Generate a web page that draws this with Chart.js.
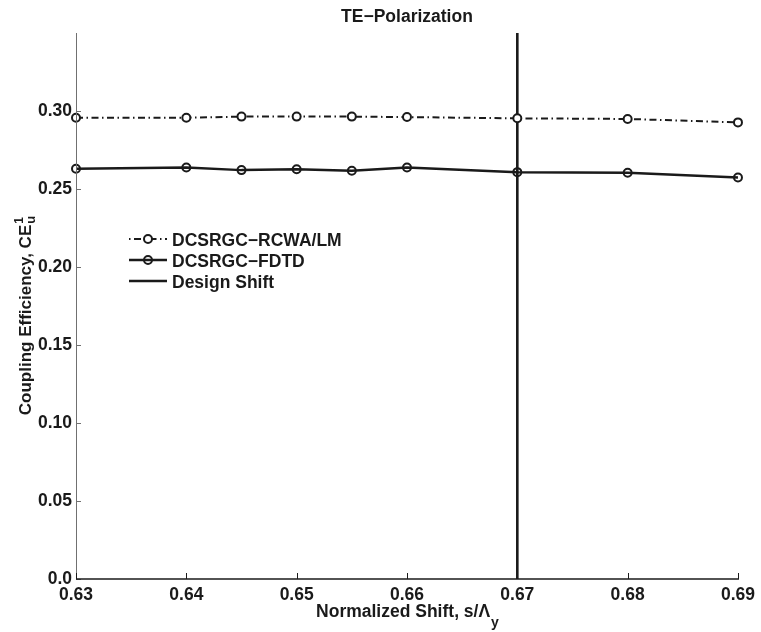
<!DOCTYPE html>
<html>
<head>
<meta charset="utf-8">
<script src="https://cdn.jsdelivr.net/npm/chart.js@4.4.0/dist/chart.umd.min.js"></script>
<style>
  body { margin: 0; background: #fff; }
  #wrap { width: 761px; height: 632px; }
</style>
</head>
<body>
<div id="wrap"><canvas id="chart" width="761" height="632"></canvas></div>
<script>
// x positions (normalized shift)
const shifts = [0.63, 0.64, 0.645, 0.65, 0.655, 0.66, 0.67, 0.68, 0.69];
// coupling efficiency
const rcwaValues = [0.2957, 0.2957, 0.2964, 0.2964, 0.2964, 0.2961, 0.2953, 0.2949, 0.2927];
const fdtdValues = [0.2630, 0.2638, 0.2621, 0.2627, 0.2617, 0.2638, 0.2608, 0.2604, 0.2574];
const designShift = 0.67;

const seriesNames = ["DCSRGC\u2212RCWA/LM", "DCSRGC\u2212FDTD", "Design Shift"];

const xTicks = [0.63, 0.64, 0.65, 0.66, 0.67, 0.68, 0.69];
const xTickLabels = ["0.63", "0.64", "0.65", "0.66", "0.67", "0.68", "0.69"];
const yTicks = [0, 0.05, 0.10, 0.15, 0.20, 0.25, 0.30];
const yTickLabels = ["0.0", "0.05", "0.10", "0.15", "0.20", "0.25", "0.30"];
const xMin = 0.63, xMax = 0.69, yMin = 0, yMax = 0.35;

const FONT = "'Liberation Sans', Arial, Helvetica, sans-serif";
const INK = "#1a1a1a";
const FS = 17.5;

const toPoints = (xs, ys) => xs.map((x, i) => ({ x: x, y: ys[i] }));

// axis lines, inward ticks, titles and legend
const decorations = {
    id: "decorations",
    afterDraw(chart) {
        const ctx = chart.ctx;
        const { left, right, top, bottom } = chart.chartArea;
        const xs = chart.scales.x, ys = chart.scales.y;
        ctx.save();

        // left axis (thin gray)
        ctx.strokeStyle = "#707070";
        ctx.lineWidth = 1;
        ctx.beginPath();
        ctx.moveTo(left + 0.5, top);
        ctx.lineTo(left + 0.5, bottom);
        ctx.stroke();
        yTicks.forEach(v => {
            const py = Math.round(ys.getPixelForValue(v)) + 0.5;
            ctx.beginPath();
            ctx.moveTo(left, py);
            ctx.lineTo(left + 5, py);
            ctx.stroke();
        });

        // bottom axis
        ctx.strokeStyle = INK;
        ctx.lineWidth = 1.6;
        ctx.beginPath();
        ctx.moveTo(left, bottom);
        ctx.lineTo(right + 1, bottom);
        ctx.stroke();
        ctx.lineWidth = 1;
        xTicks.forEach(v => {
            const px = Math.round(xs.getPixelForValue(v)) + 0.5;
            ctx.beginPath();
            ctx.moveTo(px, bottom);
            ctx.lineTo(px, bottom - 6);
            ctx.stroke();
        });

        ctx.fillStyle = INK;

        // title
        ctx.font = "bold " + FS + "px " + FONT;
        ctx.textAlign = "center";
        ctx.textBaseline = "alphabetic";
        ctx.fillText("TE\u2212Polarization", (left + right) / 2, 21.5);

        // x title with subscript
        ctx.textAlign = "left";
        const xMain = "Normalized Shift, s/\u039B";
        ctx.font = "bold " + FS + "px " + FONT;
        const wMain = ctx.measureText(xMain).width;
        ctx.font = "bold 14px " + FONT;
        const wSub = ctx.measureText("y").width;
        const sx = (left + right) / 2 - (wMain + wSub) / 2;
        ctx.font = "bold " + FS + "px " + FONT;
        ctx.fillText(xMain, sx, 617);
        ctx.font = "bold 14px " + FONT;
        ctx.fillText("y", sx + wMain + 1, 626.5);

        // y title with superscript 1 and subscript u
        ctx.save();
        ctx.translate(31, 316);
        ctx.rotate(-Math.PI / 2);
        ctx.font = "bold 17px " + FONT;
        const yMain = "Coupling Efficiency, CE";
        const wy = ctx.measureText(yMain).width;
        ctx.fillText(yMain, -wy / 2 - 4, 0);
        ctx.font = "bold 12px " + FONT;
        ctx.fillText("1", wy / 2 - 3, -8);
        ctx.font = "bold 13px " + FONT;
        ctx.fillText("u", wy / 2 - 3, 4);
        ctx.restore();

        // legend
        const rows = [239, 260, 281];
        const x0 = 129, x1 = 167, tx = 172;
        chart.data.datasets.forEach((ds, i) => {
            const ly = rows[i];
            ctx.strokeStyle = ds.borderColor;
            ctx.lineWidth = ds.borderWidth;
            ctx.setLineDash(ds.borderDash || []);
            ctx.lineDashOffset = ds.borderDash ? 10.5 : 0;
            ctx.beginPath();
            ctx.moveTo(x0, ly);
            ctx.lineTo(x1, ly);
            ctx.stroke();
            ctx.setLineDash([]);
            ctx.lineDashOffset = 0;
            if (ds.pointRadius > 0) {
                ctx.beginPath();
                ctx.arc((x0 + x1) / 2, ly, ds.pointRadius, 0, Math.PI * 2);
                if (ds.pointBackgroundColor !== "transparent") {
                    ctx.fillStyle = ds.pointBackgroundColor;
                    ctx.fill();
                }
                ctx.lineWidth = ds.pointBorderWidth;
                ctx.strokeStyle = ds.pointBorderColor;
                ctx.stroke();
            }
            ctx.fillStyle = INK;
            ctx.font = "bold " + FS + "px " + FONT;
            ctx.textAlign = "left";
            ctx.textBaseline = "alphabetic";
            ctx.fillText(ds.label, tx, ly + 6.5);
        });

        ctx.restore();
    }
};

new Chart(document.getElementById("chart"), {
    type: "line",
    data: {
        datasets: [
            {
                label: seriesNames[0],
                data: toPoints(shifts, rcwaValues),
                borderColor: INK,
                borderWidth: 2,
                borderDash: [7, 3.5, 1.5, 3.5],
                pointRadius: 4,
                pointBorderWidth: 2,
                pointBorderColor: INK,
                pointBackgroundColor: "#ffffff",
                tension: 0,
                fill: false
            },
            {
                label: seriesNames[1],
                data: toPoints(shifts, fdtdValues),
                borderColor: INK,
                borderWidth: 2.5,
                pointRadius: 4,
                pointBorderWidth: 2,
                pointBorderColor: INK,
                pointBackgroundColor: "transparent",
                tension: 0,
                fill: false
            },
            {
                label: seriesNames[2],
                data: [{ x: designShift, y: yMin }, { x: designShift, y: yMax }],
                borderColor: INK,
                borderWidth: 2.6,
                pointRadius: 0,
                tension: 0,
                fill: false
            }
        ]
    },
    options: {
        responsive: false,
        animation: false,
        clip: false,
        layout: { padding: { top: 33, right: 21, left: 0, bottom: 0 } },
        plugins: {
            legend: { display: false },
            tooltip: { enabled: false },
            title: { display: false }
        },
        scales: {
            x: {
                type: "linear",
                min: xMin,
                max: xMax,
                afterBuildTicks: s => { s.ticks = xTicks.map(v => ({ value: v })); },
                afterFit: s => { s.height = 53; },
                grid: { display: false, drawTicks: false },
                border: { display: false },
                ticks: {
                    padding: 6,
                    color: INK,
                    font: { family: FONT, size: FS, weight: "bold" },
                    maxRotation: 0,
                    callback: (v, i) => xTickLabels[i]
                }
            },
            y: {
                type: "linear",
                min: yMin,
                max: yMax,
                afterBuildTicks: s => { s.ticks = yTicks.map(v => ({ value: v })); },
                afterFit: s => { s.width = 76; },
                grid: { display: false, drawTicks: false },
                border: { display: false },
                ticks: {
                    padding: 4,
                    color: INK,
                    font: { family: FONT, size: FS, weight: "bold" },
                    callback: (v, i) => yTickLabels[i]
                }
            }
        }
    },
    plugins: [decorations]
});
</script>
</body>
</html>
